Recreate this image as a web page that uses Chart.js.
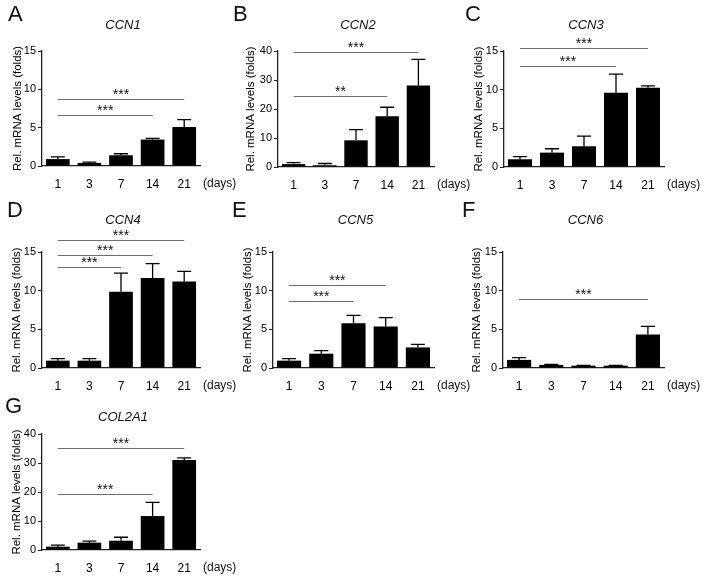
<!DOCTYPE html>
<html>
<head>
<meta charset="utf-8">
<script src="https://cdn.jsdelivr.net/npm/chart.js@4"></script>
<style>
  body { margin: 0; background: #fff; }
  #fig { position: relative; width: 703px; height: 578px; overflow: hidden; }
  canvas { position: absolute; }
</style>
</head>
<body>
<div id="fig">
  <canvas id="panelA" width="240" height="194" style="left:0;top:0"></canvas>
  <canvas id="panelB" width="240" height="194" style="left:230px;top:0"></canvas>
  <canvas id="panelC" width="243" height="194" style="left:460px;top:0"></canvas>
  <canvas id="panelD" width="240" height="206" style="left:0;top:192px"></canvas>
  <canvas id="panelE" width="240" height="206" style="left:230px;top:192px"></canvas>
  <canvas id="panelF" width="243" height="206" style="left:460px;top:192px"></canvas>
  <canvas id="panelG" width="240" height="188" style="left:0;top:390px"></canvas>
</div>
<script>
// x categories (days)
const days = ["1", "3", "7", "14", "21"];

// mean fold change and upper error (SD) per gene
const ccn1 = [0.9, 0.4, 1.4, 3.45, 5.1];
const ccn1Err = [0.3, 0.1, 0.2, 0.15, 0.95];
const ccn2 = [1.0, 0.6, 9.2, 17.5, 28.1];
const ccn2Err = [0.5, 0.6, 3.7, 3.1, 9.0];
const ccn3 = [1.0, 1.86, 2.68, 9.6, 10.25];
const ccn3Err = [0.35, 0.5, 1.3, 2.4, 0.25];
const ccn4 = [0.95, 0.95, 9.87, 11.64, 11.2];
const ccn4Err = [0.25, 0.25, 2.4, 1.85, 1.3];
const ccn5 = [0.95, 1.85, 5.8, 5.36, 2.66];
const ccn5Err = [0.25, 0.4, 1.0, 1.15, 0.4];
const ccn6 = [1.05, 0.4, 0.3, 0.3, 4.33];
const ccn6Err = [0.3, 0.05, 0.05, 0.05, 1.05];
const col2a1 = [1.15, 2.53, 3.2, 11.7, 31.0];
const col2a1Err = [0.55, 0.5, 1.2, 4.7, 0.8];

// significance brackets: [from index, to index, height (folds), label]
const ccn1Sig = [[0, 4, 8.8, "***"], [0, 3, 6.6, "***"]];
const ccn2Sig = [[0, 4, 39.8, "***"], [0, 3, 24.5, "**"]];
const ccn3Sig = [[0, 4, 15.4, "***"], [0, 3, 13.1, "***"]];
const ccn4Sig = [[0, 4, 16.5, "***"], [0, 3, 14.65, "***"], [0, 2, 13.0, "***"]];
const ccn5Sig = [[0, 3, 10.7, "***"], [0, 2, 8.7, "***"]];
const ccn6Sig = [[0, 4, 8.9, "***"]];
const col2a1Sig = [[0, 4, 35.1, "***"], [0, 3, 19.3, "***"]];

// y axis ranges
const smallMax = 15, smallStep = 5;
const bigMax = 40, bigStep = 10;

const FONT = "'Liberation Sans', Arial, sans-serif";

function panelMarks(o) {
    return {
        id: "panelMarks",
        afterDatasetsDraw(chart) {
            const ctx = chart.ctx;
            const x = chart.scales.x;
            const y = chart.scales.y;
            const area = chart.chartArea;
            ctx.save();

            // error bars, upper half only
            ctx.strokeStyle = "#000";
            ctx.lineWidth = 1.3;
            o.values.forEach((v, i) => {
                const cx = x.getPixelForValue(i);
                const y0 = y.getPixelForValue(v);
                const y1 = y.getPixelForValue(v + o.errors[i]);
                ctx.beginPath();
                ctx.moveTo(cx, y0);
                ctx.lineTo(cx, y1);
                ctx.moveTo(cx - 7, y1);
                ctx.lineTo(cx + 7, y1);
                ctx.stroke();
            });

            // significance lines with stars
            ctx.strokeStyle = "#6e6e6e";
            ctx.lineWidth = 1;
            ctx.fillStyle = "#111";
            ctx.font = "14px " + FONT;
            ctx.textAlign = "center";
            ctx.textBaseline = "alphabetic";
            o.sig.forEach(([a, b, h, stars]) => {
                const x0 = x.getPixelForValue(a);
                const x1 = x.getPixelForValue(b);
                const yy = Math.round(y.getPixelForValue(h)) + 0.5;
                ctx.beginPath();
                ctx.moveTo(x0, yy);
                ctx.lineTo(x1, yy);
                ctx.stroke();
                ctx.fillText(stars, (x0 + x1) / 2, yy - 1);
            });

            // "(days)" after the last tick label
            ctx.textAlign = "left";
            ctx.textBaseline = "middle";
            ctx.font = "12px " + FONT;
            ctx.fillText("(days)", area.right + 3, area.bottom + 18);

            // panel letter and gene name
            ctx.font = "22px " + FONT;
            ctx.textBaseline = "alphabetic";
            ctx.fillText(o.letter, o.letterX, o.letterY);
            ctx.font = "italic 13px " + FONT;
            ctx.textAlign = "center";
            ctx.fillText(o.gene, (area.left + area.right) / 2 + 2, o.geneY);
            ctx.restore();
        }
    };
}

function drawPanel(id, o) {
    const canvas = document.getElementById(id);
    const W = canvas.width, H = canvas.height;
    new Chart(canvas.getContext("2d"), {
        type: "bar",
        data: {
            labels: days,
            datasets: [{
                data: o.values,
                backgroundColor: "#000",
                borderWidth: 0,
                barPercentage: 0.75,
                categoryPercentage: 1.0,
            }],
        },
        options: {
            responsive: false,
            animation: false,
            events: [],
            layout: {
                padding: { top: o.area[2], right: W - o.area[1], left: 0, bottom: 0 },
            },
            plugins: {
                legend: { display: false },
                tooltip: { enabled: false },
            },
            scales: {
                x: {
                    grid: { display: false },
                    border: { display: true, color: "#222", width: 1.3 },
                    ticks: { color: "#000", font: { family: FONT, size: 12 }, padding: 3 },
                    afterFit: s => { s.height = H - o.area[3]; },
                },
                y: {
                    min: 0,
                    max: o.max,
                    ticks: {
                        stepSize: o.step,
                        color: "#000",
                        font: { family: FONT, size: 11 },
                        padding: 2,
                    },
                    grid: {
                        display: true,
                        drawOnChartArea: false,
                        drawTicks: true,
                        tickLength: 4,
                        color: "#222",
                    },
                    border: { display: true, color: "#222", width: 1.3 },
                    title: {
                        display: true,
                        text: "Rel. mRNA levels (folds)",
                        color: "#000",
                        font: { family: FONT, size: 11.5 },
                        padding: { top: o.yTitleX - 6.9, bottom: 0 },
                    },
                    afterFit: s => { s.width = o.area[0]; },
                },
            },
        },
        plugins: [panelMarks(o)],
    });
}

// area = [left, right, top, bottom] inside each canvas
drawPanel("panelA", { values: ccn1, errors: ccn1Err, sig: ccn1Sig, max: smallMax, step: smallStep,
    area: [42, 200, 51, 166], yTitleX: 18, letter: "A", letterX: 8, letterY: 21, gene: "CCN1", geneY: 29 });
drawPanel("panelB", { values: ccn2, errors: ccn2Err, sig: ccn2Sig, max: bigMax, step: bigStep,
    area: [48, 204, 51, 167], yTitleX: 21, letter: "B", letterX: 3, letterY: 21, gene: "CCN2", geneY: 29 });
drawPanel("panelC", { values: ccn3, errors: ccn3Err, sig: ccn3Sig, max: smallMax, step: smallStep,
    area: [44, 204, 51, 167], yTitleX: 19, letter: "C", letterX: 5, letterY: 21, gene: "CCN3", geneY: 29 });
drawPanel("panelD", { values: ccn4, errors: ccn4Err, sig: ccn4Sig, max: smallMax, step: smallStep,
    area: [42, 200, 60, 176], yTitleX: 17, letter: "D", letterX: 7, letterY: 25, gene: "CCN4", geneY: 32 });
drawPanel("panelE", { values: ccn5, errors: ccn5Err, sig: ccn5Sig, max: smallMax, step: smallStep,
    area: [43, 204, 60, 176], yTitleX: 18, letter: "E", letterX: 2, letterY: 25, gene: "CCN5", geneY: 32 });
drawPanel("panelF", { values: ccn6, errors: ccn6Err, sig: ccn6Sig, max: smallMax, step: smallStep,
    area: [43, 204, 60, 176], yTitleX: 17, letter: "F", letterX: 2, letterY: 25, gene: "CCN6", geneY: 32 });
drawPanel("panelG", { values: col2a1, errors: col2a1Err, sig: col2a1Sig, max: bigMax, step: bigStep,
    area: [42, 200, 44, 160], yTitleX: 17, letter: "G", letterX: 5, letterY: 23, gene: "COL2A1", geneY: 31 });
</script>
</body>
</html>
